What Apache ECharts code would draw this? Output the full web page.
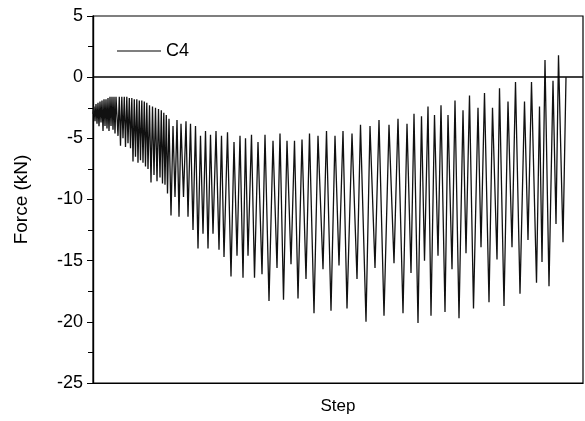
<!DOCTYPE html>
<html>
<head>
<meta charset="utf-8">
<script src="https://cdn.jsdelivr.net/npm/echarts@6/dist/echarts.min.js"></script>
<style>html,body{margin:0;padding:0;background:#fff}#c{width:585px;height:421px}</style>
</head>
<body>
<div id="c"></div>
<script>
const seriesName = 'C4';
const steps = [0,10,20,30,40,50,60,70,80,90,100,110,120,130,140,150,160,170,180,190,200,210,220,230,
250,263,275,288,300,313,325,338,350,363,375,388,400,413,425,438,450,463,475,488,500,513,525,538,550,565,580,595,610,625,640,655,670,683,695,708,720,733,745,760,
780,800,820,840,860,880,905,930,950,975,1000,1025,1050,1075,1100,1125,1150,1175,1200,1230,1260,1285,1310,1345,1380,1410,1440,1470,1500,1525,1550,1585,1615,
1650,1690,1720,1760,1800,1840,1870,1905,1940,1980,2015,2050,2090,2130,2165,2210,2250,2300,2335,2380,
2420,2460,2500,2540,2590,2640,2675,2730,2770,2820,2860,2910,2960,3010,3050,3100,3140,3180,3210,
3250,3285,3315,3350,3380,3415,3450,3480,3520,3550,3590,3620,3660,3700,3730,3765,3805,3850,3880,3915,3960,3995,4040,4065,
4110,4150,4190,4225,4270,4315,4350,4385,4435,4465,4490,4520,4560,4600,4630,4655,4700,4730];
const force = [-3.0,-2.4,-3.6,-2.2,-3.8,-2.1,-4.0,-2.0,-3.7,-1.9,-4.4,-1.8,-4.0,-1.8,-4.2,-1.7,-4.4,-1.6,-4.0,-1.6,-4.3,-1.6,-4.6,-1.6,
-4.8,-1.6,-5.6,-1.6,-5.0,-1.6,-5.7,-1.6,-5.4,-1.7,-5.8,-1.7,-6.9,-1.8,-6.5,-1.8,-7.0,-1.9,-6.8,-1.9,-7.0,-2.0,-7.3,-2.1,-7.5,-2.3,-8.6,-2.4,-8.0,-2.5,-8.5,-2.6,-8.2,-2.7,-8.7,-2.9,-8.8,-3.1,-9.5,-3.4,
-11.3,-4.0,-9.8,-3.5,-11.4,-3.8,-9.8,-3.6,-11.4,-3.8,-12.5,-4.0,-14.0,-4.8,-12.8,-4.4,-14.0,-4.7,-12.8,-4.4,-14.1,-4.8,-14.7,-4.5,-16.3,-5.3,-14.6,-4.8,-16.4,-5.0,-14.6,-4.7,-16.4,
-5.3,-16.1,-4.7,-18.3,-5.2,-15.6,-4.6,-18.2,-5.2,-15.3,-5.2,-18.1,-5.1,-16.5,-4.6,-19.3,-4.8,-15.7,-4.4,-19.1,
-4.8,-15.4,-4.4,-18.9,-4.6,-16.5,-3.9,-20.0,-4.0,-15.6,-3.5,-19.5,-3.9,-15.2,-3.4,-19.3,-3.8,-16.0,-3.0,
-20.1,-3.2,-15.0,-2.4,-19.5,-3.1,-14.6,-2.3,-19.2,-3.1,-15.7,-1.9,-19.7,-2.7,-14.4,-1.5,-18.9,-2.5,-13.9,-1.3,-18.4,-2.5,-14.9,-0.9,
-18.7,-2.0,-13.9,-0.4,-17.7,-2.0,-13.3,-0.4,-16.8,-2.4,-15.1,1.4,-17.1,-0.3,-12.0,1.8,-13.5,0.0];
const yTicks = [5,0,-5,-10,-15,-20,-25];

const data = steps.map((s,i)=>[s, force[i]]);
const font = 'Liberation Sans, Arial, sans-serif';
const chart = echarts.init(document.getElementById('c'), null, {renderer:'canvas'});
chart.setOption({
  animation:false,
  backgroundColor:'#fff',
  grid:{left:93, right:2, top:16, bottom:38, containLabel:false,
        show:true, borderColor:'#000', borderWidth:1.2, backgroundColor:'transparent'},
  legend:{
    show:true, left:112, top:37, itemWidth:44, itemHeight:12, itemGap:5,
    textStyle:{fontFamily:font, fontSize:18, color:'#000'},
    data:[{name:seriesName, icon:'path://M0,5 L44,5 L44,6 L0,6 Z'}],
    itemStyle:{color:'#000'}
  },
  xAxis:{
    type:'value', min:0, max:4900,
    name:'Step', nameLocation:'middle', nameGap:15,
    nameTextStyle:{fontFamily:font, fontSize:17, color:'#000'},
    axisLine:{show:true, onZero:false, lineStyle:{color:'#000', width:1.2}},
    axisTick:{show:false}, axisLabel:{show:false}, splitLine:{show:false}
  },
  yAxis:[{
    type:'value', min:-25, max:5, interval:5,
    name:'Force (kN)', nameLocation:'middle', nameGap:62, nameRotate:90,
    nameTextStyle:{fontFamily:font, fontSize:19, color:'#000'},
    axisLine:{show:true, onZero:false, lineStyle:{color:'#000', width:1.2}},
    axisTick:{show:true, inside:false, length:6, lineStyle:{color:'#000', width:1}},
    minorTick:{show:true, splitNumber:2, length:5, lineStyle:{color:'#000', width:1}},
    axisLabel:{show:true, fontFamily:font, fontSize:18, color:'#000', margin:10,
      formatter:(v)=> yTicks.includes(v) ? String(v) : ''},
    splitLine:{show:false}
  },{
    type:'value', min:-25, max:5, interval:5, position:'right',
    axisLine:{show:true, lineStyle:{color:'#000', width:1.2}},
    axisTick:{show:true, inside:true, length:5, lineStyle:{color:'#000'}},
    minorTick:{show:true, splitNumber:2, length:3, lineStyle:{color:'#000'}},
    axisLabel:{show:false}, splitLine:{show:false}
  }],
  series:[{
    name:seriesName, type:'line', data:data, showSymbol:false, symbol:'none',
    lineStyle:{color:'#111', width:1.3},
    itemStyle:{color:'#000'},
    z:3,
    markLine:{
      silent:true, symbol:'none', label:{show:false},
      lineStyle:{color:'#000', width:1.5, type:'solid'},
      data:[{yAxis:0}]
    }
  }]
});
</script>
</body>
</html>
